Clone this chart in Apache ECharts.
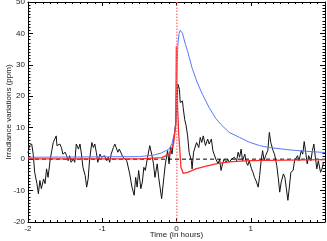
<!DOCTYPE html>
<html><head><meta charset="utf-8">
<script src="https://cdn.jsdelivr.net/npm/echarts@6/dist/echarts.min.js"></script>
<style>html,body{margin:0;padding:0;background:#fff}#c{width:327px;height:241px}</style>
</head><body><div id="c"></div>
<script>
var xTicks = [-2, -1, 0, 1];
var yTicks = [-20, -10, 0, 10, 20, 30, 40, 50];

var blackT = [-2.00,-1.98,-1.95,-1.93,-1.91,-1.88,-1.86,-1.84,-1.82,-1.79,-1.77,-1.75,-1.73,-1.70,-1.68,-1.66,-1.62,-1.61,-1.57,-1.55,-1.53,-1.50,-1.48,-1.46,-1.44,-1.42,-1.39,-1.37,-1.35,-1.32,-1.30,-1.28,-1.26,-1.23,-1.21,-1.19,-1.17,-1.14,-1.12,-1.10,-1.08,-1.06,-1.03,-1.01,-0.99,-0.97,-0.94,-0.92,-0.90,-0.88,-0.85,-0.83,-0.81,-0.79,-0.77,-0.74,-0.72,-0.67,-0.65,-0.63,-0.60,-0.57,-0.55,-0.53,-0.51,-0.48,-0.46,-0.44,-0.42,-0.39,-0.36,-0.33,-0.31,-0.29,-0.26,-0.24,-0.20,-0.17,-0.15,-0.12,-0.10,-0.08,-0.06,-0.04,-0.01,0.02,0.04,0.05,0.08,0.09,0.11,0.13,0.15,0.17,0.20,0.21,0.23,0.25,0.27,0.30,0.32,0.34,0.36,0.39,0.42,0.44,0.47,0.49,0.51,0.53,0.56,0.58,0.60,0.62,0.64,0.67,0.69,0.71,0.74,0.76,0.78,0.81,0.83,0.85,0.87,0.89,0.92,0.94,0.96,0.98,1.01,1.03,1.05,1.07,1.10,1.12,1.14,1.16,1.18,1.20,1.23,1.25,1.27,1.30,1.32,1.35,1.37,1.39,1.41,1.44,1.46,1.48,1.50,1.52,1.54,1.57,1.59,1.61,1.63,1.65,1.68,1.70,1.72,1.74,1.76,1.78,1.81,1.83,1.85,1.87,1.89,1.91,1.94,1.96,1.98];
var blackV = [2,4.3,4.8,1.6,-4.2,-7.8,-11,-6.8,-9.4,-6.3,-7.8,-3.1,-5.8,0,2.7,5.3,7.4,4.3,4.8,3.7,1.6,2.2,1.1,-0.5,1.1,-1,0,-1,4.8,3.2,4.8,1.6,-2.6,-5.2,-8.9,-6.3,0,5.3,3.7,4.8,2.2,-1,1.6,0.6,0,1.1,-0.5,0.6,-1,1.6,3.7,4.8,4.3,2.2,3.2,1.6,0.6,-0.5,0,-4.7,-8.9,-11.5,-5.8,-8.9,-3.6,-9.4,-7.3,-2.6,-3.6,0.6,4.3,1.1,-1.5,-5.8,-1.5,-5.8,-12.6,-5.8,-1.5,2.7,-1.5,3.7,1.6,5.9,11.1,23.8,22.2,18,18.5,16.4,12.7,10.6,7.4,2.2,-0.5,-3.1,2.2,2.7,5.3,3.7,6.9,5.3,7.4,4.3,6.4,4.8,6.4,2.7,2.2,0,-1.5,0,-3.6,-1.5,0,-1,0,-1,0,-0.5,0.6,-0.5,2.2,0.6,3.2,-0.5,1.6,-1,-2,-0.5,-3.1,-4.2,-5.8,-6.8,-8.9,-5.2,-0.5,2.7,-0.5,1.1,2.7,8.5,5.3,2.7,1.6,-2,-5.8,-10.5,-7.3,-4.7,-5.8,-9.4,-13.1,-8.9,-4.2,-3.6,-0.5,0,1.1,-0.5,2.7,1.6,5.6,2.2,-1.5,1.1,-0.5,2.7,4.8,0.6,-3.1,-0.5,-4.2,-3.1,-1];

var blueT = [-2.0,-0.5,-0.3,-0.2,-0.1,-0.06,-0.03,-0.01,0.0,0.01,0.02,0.035,0.05,0.08,0.12,0.15,0.21,0.28,0.35,0.44,0.53,0.6,0.71,0.85,0.98,1.12,1.25,1.5,1.75,2.0];
var blueV = [0.6,0.8,1.3,2,3.2,5,8,12,25,31,37,40,41,40.1,36.5,34.3,29,24.3,20.6,16.4,12.9,11,8.5,6.9,5.4,4.3,3.7,3.0,2.5,2.1];

var redT = [-2.0,-0.5,-0.2,-0.1,-0.04,-0.01,-0.002,0.005,0.03,0.06,0.09,0.11,0.15,0.26,0.4,0.53,0.71,0.98,1.5,2.0];
var redV = [0.1,0.1,0.5,1.6,4.8,11,36,22,8,-2.6,-4.5,-4.8,-4.2,-3.1,-2.2,-1.5,-0.9,-0.5,-0.3,-0.15];

var flareT = 0.005;

function pairs(t, v) { return t.map(function (x, i) { return [x, v[i]]; }); }

var font = 'Liberation Sans, Arial, sans-serif';
function xAx(pos, labels) {
  return {
    type: 'value', position: pos, min: -2, max: 2, interval: 1,
    axisLine: { show: true, onZero: false, lineStyle: { color: '#000', width: 1 } },
    axisTick: { show: true, inside: true, length: 4, lineStyle: { color: '#000' } },
    minorTick: { show: true, splitNumber: 10, length: 2, lineStyle: { color: '#000' } },
    splitLine: { show: false },
    axisLabel: { show: labels, color: '#222', fontSize: 8, fontFamily: font, margin: 3,
      formatter: function (v) { return xTicks.indexOf(v) >= 0 ? String(v) : ''; } },
    name: labels ? 'Time (in hours)' : '', nameLocation: 'middle', nameGap: 9, nameMoveOverlap: false,
    nameTextStyle: { color: '#222', fontSize: 8, fontFamily: font }
  };
}
function yAx(pos, labels) {
  return {
    type: 'value', position: pos, min: -20, max: 50, interval: 10,
    axisLine: { show: true, onZero: false, lineStyle: { color: '#000', width: 1 } },
    axisTick: { show: true, inside: true, length: 5, lineStyle: { color: '#000' } },
    minorTick: { show: true, splitNumber: 10, length: 2.5, lineStyle: { color: '#000' } },
    splitLine: { show: false },
    axisLabel: { show: labels, color: '#222', fontSize: 8, fontFamily: font, margin: 3,
      formatter: function (v) { return yTicks.indexOf(v) >= 0 ? String(v) : ''; } },
    name: labels ? 'Irradiance variations (ppm)' : '', nameLocation: 'middle', nameGap: 15, nameMoveOverlap: false,
    nameTextStyle: { color: '#222', fontSize: 8, fontFamily: font }
  };
}

var chart = echarts.init(document.getElementById('c'), null, { renderer: 'canvas' });
chart.setOption({
  animation: false,
  grid: { left: 28, right: 2, top: 2, bottom: 19, containLabel: false, outerBoundsMode: 'none' },
  xAxis: [xAx('bottom', true), xAx('top', false)],
  yAxis: [yAx('left', true), yAx('right', false)],
  series: [
    { type: 'line', data: pairs(blackT, blackV), showSymbol: false, lineStyle: { color: '#111', width: 1 }, z: 2 },
    { type: 'line', data: [[-2, 0], [2, 0]], showSymbol: false, lineStyle: { color: '#000', width: 1, type: [4, 3] }, z: 3 },
    { type: 'line', data: pairs(blueT, blueV), showSymbol: false, lineStyle: { color: '#5577ff', width: 1 }, z: 4 },
    { type: 'line', data: pairs(redT, redV), showSymbol: false, lineStyle: { color: '#ff2a2a', width: 1.3 }, z: 5 },
    { type: 'line', data: [[flareT, -20], [flareT, 50]], showSymbol: false, lineStyle: { color: '#ff7070', width: 1.3, type: [1.5, 1.5] }, z: 6 }
  ]
});
</script></body></html>
